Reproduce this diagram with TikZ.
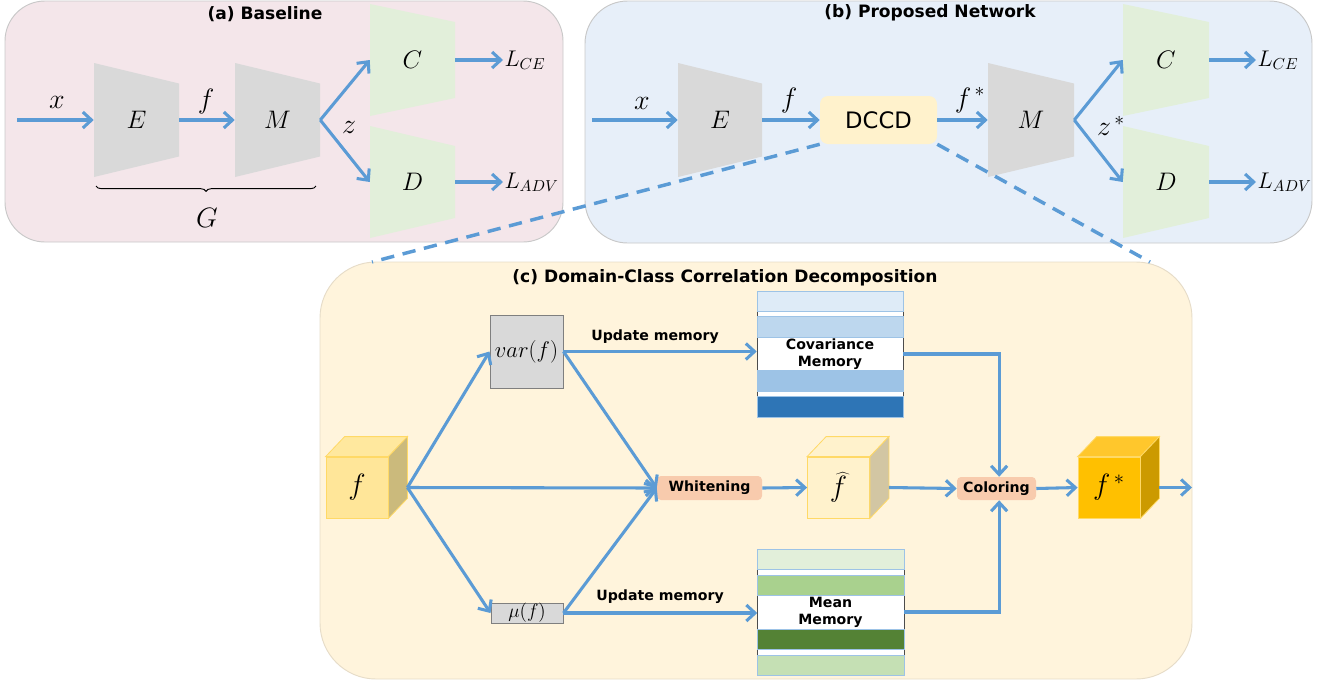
\RequirePackage{fix-cm}
\documentclass[tikz,border=0pt]{standalone}
\usepackage{fontspec}
\setsansfont{DejaVu Sans}
\usetikzlibrary{arrows.meta,decorations.pathreplacing,calc}

\definecolor{arrowblue}{HTML}{5B9BD5}
\definecolor{panelA}{HTML}{F4E6EA}
\definecolor{panelB}{HTML}{E7EFF9}
\definecolor{panelC}{HTML}{FFF4DC}
\definecolor{panelEdge}{HTML}{C8C8C8}
\definecolor{panelCEdge}{HTML}{E6DCC8}
\definecolor{encgray}{HTML}{D9D9D9}
\definecolor{headgreen}{HTML}{E2EFDA}
\definecolor{dccdfill}{HTML}{FFF2CC}
\definecolor{opfill}{HTML}{F8CBAD}
\definecolor{statfill}{HTML}{D9D9D9}
\definecolor{statedge}{HTML}{7F7F7F}
\definecolor{cubeedge}{HTML}{FFD966}
\definecolor{fFront}{HTML}{FFE699}
\definecolor{fTop}{HTML}{FFE89E}
\definecolor{fSide}{HTML}{CBBA7C}
\definecolor{hFront}{HTML}{FFF2CC}
\definecolor{hTop}{HTML}{FFF2CC}
\definecolor{hSide}{HTML}{D2C6A3}
\definecolor{sFront}{HTML}{FFC000}
\definecolor{sTop}{HTML}{FFC72C}
\definecolor{sSide}{HTML}{CC9A00}
\definecolor{stripeedge}{HTML}{9DC3E6}
\definecolor{covA}{HTML}{DEEBF7}
\definecolor{covB}{HTML}{BDD7EE}
\definecolor{covC}{HTML}{9DC3E6}
\definecolor{covD}{HTML}{2E75B6}
\definecolor{meanA}{HTML}{E2EFDA}
\definecolor{meanB}{HTML}{A9D18E}
\definecolor{meanC}{HTML}{548235}
\definecolor{meanD}{HTML}{C5E0B4}

% trapezoidal block: name, cx, cy, half width, left half height, right half height, colour, label
\newcommand\trapnode[8]{%
  \fill[#7] ({#2-#4},{#3-#5}) -- ({#2+#4},{#3-#6}) -- ({#2+#4},{#3+#6}) -- ({#2-#4},{#3+#5}) -- cycle;
  \node[inner sep=0pt, minimum width={2*#4*0.75pt}, minimum height={2*#6*0.75pt}, font=\blab] (#1) at (#2,#3) {#8};}

% feature cube: name, cx, cy, front, top, side, label
\newcommand\cubenode[7]{%
  \node[cubeface, fill=#4] (#1) at (#2,#3) {#7};
  \filldraw[fill=#5, draw=cubeedge, line width=0.6pt] (#1.north west) -- ([shift={(19,-20)}]#1.north west)
    -- ([shift={(19,-20)}]#1.north east) -- (#1.north east) -- cycle;
  \filldraw[fill=#6, draw=cubeedge, line width=0.6pt] (#1.north east) -- ([shift={(19,-20)}]#1.north east)
    -- ([shift={(19,-20)}]#1.south east) -- (#1.south east) -- cycle;
  \coordinate (#1-out) at ([shift={(19,0)}]#1.east);}

\newcommand\blab{\fontsize{19}{21}\selectfont}
\newcommand\mlab{\fontsize{21}{23}\selectfont}
\newcommand\llab{\fontsize{17}{19}\selectfont}
\newcommand\ttl{\fontsize{12.8}{15}\selectfont\sffamily\bfseries}
\newcommand\opfont{\fontsize{10.6}{12.8}\selectfont\sffamily\bfseries}

\begin{document}
\begin{tikzpicture}[x=0.75pt,y=-0.75pt,
  flow/.style={draw=arrowblue, line width=2.3pt, -{Straight Barb[length=6.5pt,width=12pt]}},
  link/.style={draw=arrowblue, line width=2.6pt, dash pattern=on 10pt off 6.5pt},
  title/.style={font=\ttl, inner sep=1pt},
  lab/.style={font=\mlab, inner sep=1pt},
  loss/.style={font=\llab, inner sep=1pt, anchor=west},
  cubeface/.style={rectangle, inner sep=0pt, minimum width=46.5pt, minimum height=45.75pt,
    draw=cubeedge, line width=0.6pt, font=\fontsize{22}{24}\selectfont},
  statbox/.style={rectangle, inner sep=0pt, fill=statfill, draw=statedge, line width=0.7pt,
    font=\fontsize{17}{19}\selectfont},
  opbox/.style={rectangle, rounded corners=3pt, fill=opfill, inner sep=0pt, font=\opfont},
  memnode/.style={rectangle, inner sep=0pt, minimum width=109.5pt, minimum height=94.5pt,
    align=center, font=\opfont},
  note/.style={font=\opfont, inner sep=1pt},
  stripe/.style={draw=stripeedge, line width=0.7pt}
]
\useasboundingbox (0,0) rectangle (1332,679);

% ---------- panels ----------
\filldraw[fill=panelA, draw=panelEdge, line width=0.7pt, rounded corners=30pt] (5,1) rectangle (563,242);
\filldraw[fill=panelB, draw=panelEdge, line width=0.7pt, rounded corners=32pt] (585,1) rectangle (1312,243);
\filldraw[fill=panelC, draw=panelCEdge, line width=0.7pt, rounded corners=42pt] (320,262) rectangle (1192,679);

% ---------- (a) Baseline ----------
\node[title] (ta) at (265,14) {(a) Baseline};
\trapnode{aE}{136.5}{120}{42.5}{57}{36.5}{encgray}{$E$}
\trapnode{aM}{277.5}{120}{42.5}{57}{36.5}{encgray}{$M$}
\trapnode{aC}{412.5}{60}{42.5}{56}{38}{headgreen}{$C$}
\trapnode{aD}{412.5}{182}{42.5}{56}{36}{headgreen}{$D$}
\coordinate (ain) at (17,120);
\node[lab] (ax) at (57,102) {$x$};
\node[lab] (af) at (206,101) {$f$};
\node[lab] (az) at (349,127) {$z$};
\node[loss] (aLce) at (503,60) {$L_{CE}$};
\node[loss] (aLadv) at (503,182) {$L_{ADV}$};
\draw[flow] (ain) -- (aE.west);
\draw[flow] (aE.east) -- (aM.west);
\draw[flow] (aM.east) -- (aC.west);
\draw[flow] (aM.east) -- (aD.west);
\draw[flow] (aC.east) -- (aC.east -| aLce.west);
\draw[flow] (aD.east) -- (aD.east -| aLadv.west);
\coordinate (brl) at (96,186);
\coordinate (brr) at (316,186);
\draw[decorate, decoration={brace, mirror, amplitude=4pt}, line width=0.7pt] (brl) -- (brr);
\node[lab] (aG) at (207,218) {$G$};

% ---------- (b) Proposed Network ----------
\node[title] (tb) at (930,13) {(b) Proposed Network};
\trapnode{bE}{720}{120}{42}{57}{36.5}{encgray}{$E$}
\trapnode{bM}{1031}{120}{43}{57}{36.5}{encgray}{$M$}
\trapnode{bC}{1166}{60}{43}{56}{38}{headgreen}{$C$}
\trapnode{bD}{1166}{182}{43}{56}{36}{headgreen}{$D$}
\node[rectangle, rounded corners=6pt, fill=dccdfill, minimum width=87.75pt, minimum height=36pt,
  inner sep=0pt, font=\fontsize{17}{19}\selectfont\sffamily] (dccd) at (878.5,120) {DCCD};
\coordinate (bin) at (592,120);
\node[lab] (bx) at (642,103) {$x$};
\node[lab] (bf) at (789,100) {$f$};
\node[lab] (bfs) at (970,100) {$f^{\,*}$};
\node[lab] (bz) at (1111,126) {$z^{\,*}$};
\node[loss] (bLce) at (1256,60) {$L_{CE}$};
\node[loss] (bLadv) at (1256,182) {$L_{ADV}$};
\draw[flow] (bin) -- (bE.west);
\draw[flow] (bE.east) -- (dccd.west);
\draw[flow] (dccd.east) -- (bM.west);
\draw[flow] (bM.east) -- (bC.west);
\draw[flow] (bM.east) -- (bD.west);
\draw[flow] (bC.east) -- (bC.east -| bLce.west);
\draw[flow] (bD.east) -- (bD.east -| bLadv.west);

% ---------- (c) Domain-Class Correlation Decomposition ----------
\node[title] (tc) at (725,278) {(c) Domain-Class Correlation Decomposition};

% covariance memory bank
\filldraw[fill=white, draw=black!70, line width=0.6pt] (757,291) rectangle (903,417);
\filldraw[stripe, fill=covA] (757,291) rectangle (903,311);
\filldraw[stripe, fill=covB] (757,316) rectangle (903,337);
\filldraw[stripe, fill=covC] (757,370) rectangle (903,391);
\filldraw[stripe, fill=covD] (757,396) rectangle (903,417);
\node[memnode] (cov) at (830,354) {Covariance\\Memory};

% mean memory bank
\filldraw[fill=white, draw=black!70, line width=0.6pt] (757,549) rectangle (904,675);
\filldraw[stripe, fill=meanA] (757,549) rectangle (904,569);
\filldraw[stripe, fill=meanB] (757,575) rectangle (904,595);
\filldraw[stripe, fill=meanC] (757,629) rectangle (904,649);
\filldraw[stripe, fill=meanD] (757,655) rectangle (904,675);
\node[memnode] (mean) at (830.5,612) {Mean\\Memory};

% statistics and operations
\node[statbox, minimum width=54.75pt, minimum height=54.75pt] (vf) at (526.5,351.5) {$var(f)$};
\node[statbox, minimum width=54pt, minimum height=15pt, font=\fontsize{14.5}{16}\selectfont] (mf) at (527,613) {$\mu(f)$};
\node[opbox, minimum width=78.75pt, minimum height=18pt] (wh) at (709.5,488) {Whitening};
\node[opbox, minimum width=59.25pt, minimum height=17.25pt] (col) at (996.5,488.5) {Coloring};

% feature cubes
\cubenode{cf}{357}{487.5}{fFront}{fTop}{fSide}{$f$}
\cubenode{fh}{838.5}{487.5}{hFront}{hTop}{hSide}{$\widehat{f}$}
\cubenode{fs}{1109}{487.5}{sFront}{sTop}{sSide}{$f^{\,*}$}
\coordinate (cend) at (1192,487.5);

% connections
\draw[flow] (cf-out) -- (vf.west);
\draw[flow] (cf-out) -- (wh.west);
\draw[flow] (cf-out) -- (mf.west);
\draw[flow] (vf.east) -- (wh.west);
\draw[flow] (mf.east) -- (wh.west);
\draw[flow] (vf.east) -- (vf.east -| cov.west);
\draw[flow] (mf.east) -- (mf.east -| mean.west);
\node[note] (u1) at (655,337) {Update memory};
\node[note] (u2) at (660,597) {Update memory};
\draw[flow] (wh.east) -- (fh.west);
\draw[flow] (fh-out) -- (col.west);
\draw[flow] (col.east) -- (fs.west);
\draw[flow] (fs-out) -- (cend);
\draw[flow] (cov.east) -| ([xshift=2pt]col.north);
\draw[flow] (mean.east) -| ([xshift=2pt]col.south);

% zoom-in guides from the DCCD block
\coordinate (zl) at (372,262);
\coordinate (zr) at (1150,262);
\draw[link] (dccd.south west) -- (zl);
\draw[link] (dccd.south east) -- (zr);
\end{tikzpicture}
\end{document}
